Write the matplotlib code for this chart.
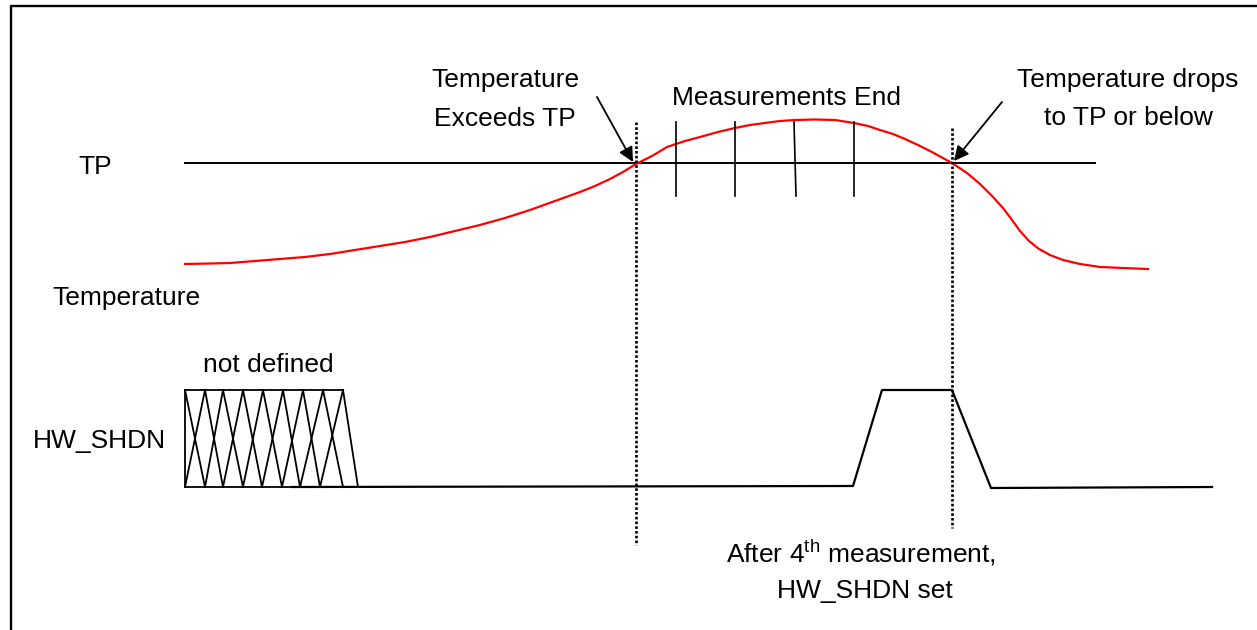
import numpy as np
import matplotlib
matplotlib.use("Agg")
import matplotlib.pyplot as plt

plt.rcParams['font.family'] = ['Liberation Sans', 'DejaVu Sans']
plt.rcParams['mathtext.fontset'] = 'custom'
plt.rcParams['mathtext.rm'] = 'Liberation Sans'

# ---- diagram data (pixel coords of the original timing diagram) ----
# temperature curve (red)
temp_x = [185, 210, 230, 255, 280, 305, 330, 355, 380, 405, 430, 455, 480, 505,
          530, 555, 580, 595, 610, 623, 636, 652, 667, 685, 700, 718, 735, 750,
          765, 780, 795, 815, 835, 854, 868, 880, 893, 905, 918, 930, 941, 952,
          967, 980, 993, 1003, 1012, 1020, 1029, 1039, 1050, 1063, 1080, 1100,
          1123, 1148]
temp_y = [264, 263.5, 263, 261, 259, 257, 254, 250, 246, 242, 237, 231, 225, 218,
          210, 201, 192, 186, 179, 172, 164, 156, 147, 141, 137, 132, 128, 125,
          123, 121, 120, 119.5, 120, 123, 126, 130, 134, 139, 145, 151, 157, 163,
          173, 184, 197, 208, 220, 231, 241, 249, 255, 260, 264, 267,
          268, 269]
tp_level = 163
tp_span = [185, 1095]

# measurement ticks (x top, x bottom)
meas_top = [676, 735, 794, 854]
meas_bot = [676, 735, 796, 854]
meas_y = [122, 196]

# dashed event markers
evt_x = [636, 952]
evt_top = [122, 128]
evt_bot = [545, 528]

# HW_SHDN signal
sig_x = [292, 853, 882, 952, 991, 1212]
sig_y = [487, 486, 390, 390, 488, 487]

# undefined region (hatched)
hatch_top = [185, 205, 223, 243, 263, 283, 303, 323, 343]
hatch_bot = [185, 205, 223, 243, 262, 282, 300, 320, 343, 358]
hatch_y = [390, 487]

fig = plt.figure(figsize=(12.57, 6.30), dpi=100)
ax = fig.add_axes([0, 0, 1, 1])
ax.set_xlim(0, 1257)
ax.set_ylim(630, 0)
ax.axis('off')

# frame
ax.plot([11, 11, 1257], [630, 6, 6], color='k', lw=1.7, solid_capstyle='butt')

# TP line and temperature
ax.plot(tp_span, [tp_level, tp_level], color='k', lw=1.4)
ax.plot(temp_x, temp_y, color='#ff0000', lw=1.6, solid_joinstyle='round')

for xt, xb in zip(meas_top, meas_bot):
    ax.plot([xt, xb], meas_y, color='k', lw=1.2)

for x, t, b in zip(evt_x, evt_top, evt_bot):
    ax.plot([x, x], [t, b], color='k', lw=1.9, linestyle=(0, (1.0, 0.8)))

# HW_SHDN
ax.plot(sig_x, sig_y, color='k', lw=1.6)
yt, yb = hatch_y
ax.plot([hatch_top[0], hatch_top[-1]], [yt, yt], color='k', lw=1.3)
ax.plot([hatch_bot[0], hatch_bot[-1]], [yb, yb], color='k', lw=1.3)
ax.plot([hatch_top[0], hatch_bot[0]], [yt, yb], color='k', lw=1.3)
for i in range(len(hatch_top)):
    ax.plot([hatch_top[i], hatch_bot[i + 1]], [yt, yb], color='k', lw=1.3)
    if i + 1 < len(hatch_top):
        ax.plot([hatch_top[i + 1], hatch_bot[i]], [yt, yb], color='k', lw=1.3)

# arrows
arw = dict(arrowstyle='-|>', color='k', lw=1.3, mutation_scale=22,
           shrinkA=0, shrinkB=0)
ax.annotate('', xy=(633, 162), xytext=(597, 97), arrowprops=arw)
ax.annotate('', xy=(954, 161), xytext=(1002, 102), arrowprops=arw)

# texts
fs = 19
ax.text(78, 174, 'TP', fontsize=fs, va='baseline', ha='left')
ax.text(52, 305, 'Temperature', fontsize=fs, va='baseline', ha='left')
ax.text(33, 448, 'HW_SHDN', fontsize=fs, va='baseline', ha='left')
ax.text(268, 372, 'not defined', fontsize=fs, va='baseline', ha='center')
ax.text(505, 87, 'Temperature', fontsize=fs, va='baseline', ha='center')
ax.text(505, 126, 'Exceeds TP', fontsize=fs, va='baseline', ha='center')
ax.text(786, 105, 'Measurements End', fontsize=fs, va='baseline', ha='center')
ax.text(1128, 87, 'Temperature drops', fontsize=fs, va='baseline', ha='center')
ax.text(1128, 125, 'to TP or below', fontsize=fs, va='baseline', ha='center')
ax.text(861, 563, r'After 4$^{\mathrm{th}}$ measurement,', fontsize=fs,
        va='baseline', ha='center')
ax.text(865, 598, 'HW_SHDN set', fontsize=fs, va='baseline', ha='center')

fig.savefig('out.png', dpi=100)
